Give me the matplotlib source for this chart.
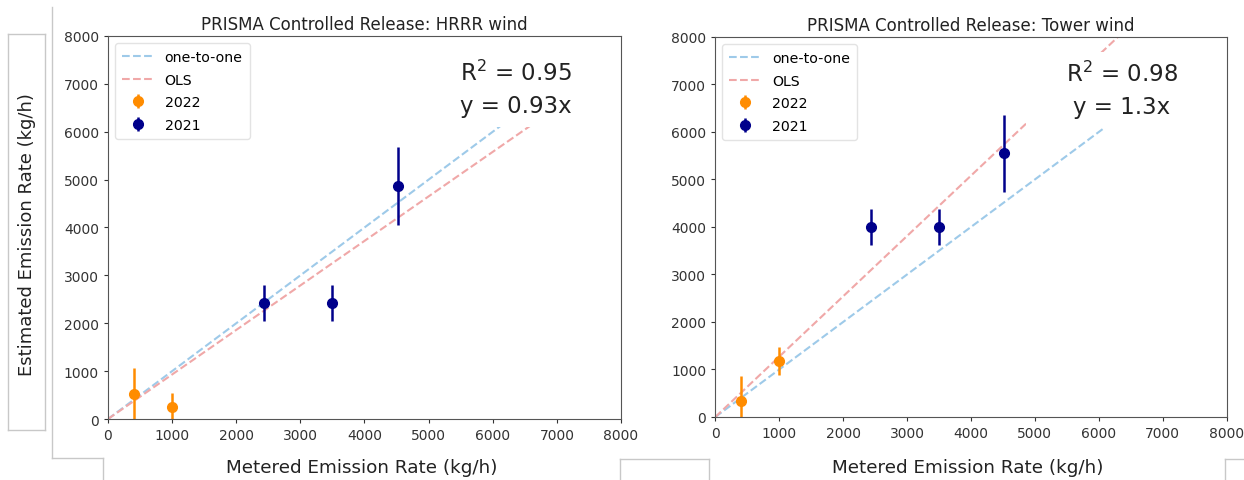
import matplotlib.pyplot as plt
from matplotlib.lines import Line2D
from matplotlib.patches import Rectangle
import numpy as np

# ---------------------------------------------------------------------------
# Data
# ---------------------------------------------------------------------------
titles = ["PRISMA Controlled Release: HRRR wind",
          "PRISMA Controlled Release: Tower wind"]
r2_labels = ["0.95", "0.98"]
slopes = [0.93, 1.27]
slope_labels = ["0.93", "1.3"]

x_2022 = [400, 1000]
x_2021 = [2440, 3500, 4520]

hrrr_2022 = [530, 250]
hrrr_2022_err = [530, 300]
hrrr_2021 = [2420, 2420, 4870]
hrrr_2021_err = [370, 370, 810]

tower_2022 = [340, 1180]
tower_2022_err = [520, 290]
tower_2021 = [4000, 4000, 5550]
tower_2021_err = [370, 370, 810]

ticks = [0, 1000, 2000, 3000, 4000, 5000, 6000, 7000, 8000]

BLUE = "#9ecae9"
RED = "#f0a8a8"
ORANGE = "#ff8c00"
NAVY = "#00008b"

fig = plt.figure(figsize=(12.44, 4.81), dpi=100)
fig.patch.set_facecolor("white")

axes = [fig.add_axes([0.0868, 0.1268, 0.4124, 0.7963]),
        fig.add_axes([0.5750, 0.1310, 0.4110, 0.7900])]

y22 = [hrrr_2022, tower_2022]
e22 = [hrrr_2022_err, tower_2022_err]
y21 = [hrrr_2021, tower_2021]
e21 = [hrrr_2021_err, tower_2021_err]
# white boxes pasted over the fit text (they hide part of the lines)
covers = [[(0.68, 0.762, 0.32, 0.238)],
          [(0.607, 0.761, 0.393, 0.199), (0.82, 0.95, 0.18, 0.05)]]
text_x = [0.795, 0.795]

for i, ax in enumerate(axes):
    line = np.array([0, 8000])
    ax.plot(line, line, "--", color=BLUE, lw=1.5, label="one-to-one", zorder=2)
    ax.plot(line, slopes[i] * line, "--", color=RED, lw=1.5, label="OLS", zorder=2)
    ax.errorbar(x_2022, y22[i], yerr=e22[i], fmt="o", color=ORANGE,
                ms=7, elinewidth=1.8, label="2022", zorder=3)
    ax.errorbar(x_2021, y21[i], yerr=e21[i], fmt="o", color=NAVY,
                ms=7, elinewidth=1.8, label="2021", zorder=3)

    for cx, cy, cw, ch in covers[i]:
        ax.add_patch(Rectangle((cx, cy), cw, ch, transform=ax.transAxes,
                               facecolor="white", edgecolor="none", zorder=4))
    ax.text(text_x[i], 0.905, f"R$^2$ = {r2_labels[i]}", transform=ax.transAxes,
            ha="center", va="center", fontsize=16.5, color="#222222", zorder=5)
    ax.text(text_x[i], 0.818, f"y = {slope_labels[i]}x", transform=ax.transAxes,
            ha="center", va="center", fontsize=16.5, color="#222222", zorder=5)

    ax.set_xlim(0, 8000)
    ax.set_ylim(0, 8000)
    ax.set_xticks(ticks)
    ax.set_yticks(ticks)
    ax.tick_params(labelsize=10, colors="#333333", length=3)
    ax.set_title(titles[i], fontsize=12, color="#222222", pad=5)
    for sp in ax.spines.values():
        sp.set_color("#555555")
        sp.set_zorder(6)
    ax.legend(loc="upper left", fontsize=10.2, frameon=True, edgecolor="#dddddd",
              borderpad=0.5, labelspacing=0.6, handlelength=2.2)

# axis labels placed like the screenshot
fig.text(0.291, 0.027, "Metered Emission Rate (kg/h)", ha="center", va="center",
         fontsize=13.2, color="#222222")
fig.text(0.778, 0.027, "Metered Emission Rate (kg/h)", ha="center", va="center",
         fontsize=13.2, color="#222222")
fig.text(0.0215, 0.513, "Estimated Emission Rate (kg/h)", ha="center", va="center",
         rotation=90, fontsize=13, color="#222222")

# screenshot frame leftovers (figure pixel coords, y from top)
H = 481.0
W = 1244.0
def seg(x0, y0, x1, y1):
    fig.add_artist(Line2D([x0 / W, x1 / W], [1 - y0 / H, 1 - y1 / H],
                          color="#c8c8c8", lw=1.0, transform=fig.transFigure))

seg(8, 35, 45, 35); seg(45, 35, 45, 431); seg(45, 431, 8, 431); seg(8, 431, 8, 35)
seg(52, 8, 52, 459); seg(52, 459, 103, 459); seg(103, 459, 103, 481)
seg(620, 460, 709, 460); seg(620, 460, 620, 481); seg(709, 460, 709, 481)
seg(1225, 460, 1244, 460); seg(1225, 460, 1225, 481)

fig.savefig("out.png", dpi=100)
